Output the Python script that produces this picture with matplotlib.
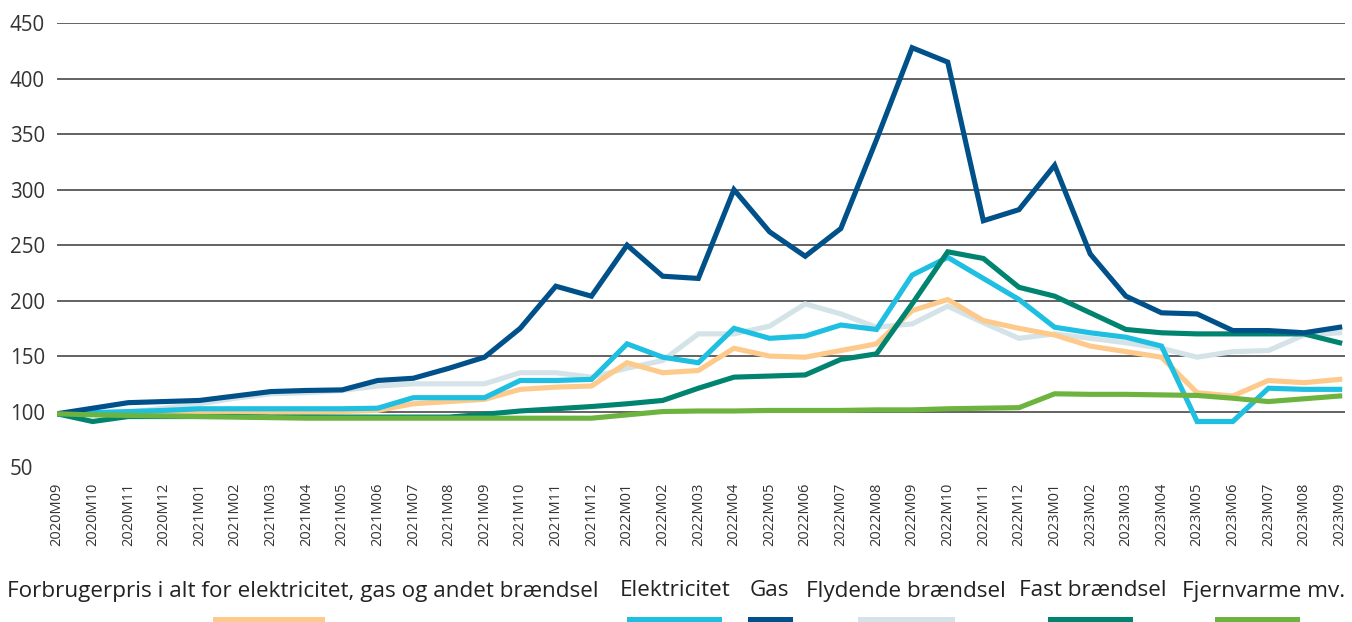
import numpy as np
import matplotlib
matplotlib.use("Agg")
import matplotlib.pyplot as plt
from matplotlib.patches import Rectangle

plt.rcParams['font.family'] = ['Open Sans', 'DejaVu Sans']

# -----------------------------
# DATA (index)
# -----------------------------
months = ["2020M09", "2020M10", "2020M11", "2020M12",
          "2021M01", "2021M02", "2021M03", "2021M04", "2021M05", "2021M06",
          "2021M07", "2021M08", "2021M09", "2021M10", "2021M11", "2021M12",
          "2022M01", "2022M02", "2022M03", "2022M04", "2022M05", "2022M06",
          "2022M07", "2022M08", "2022M09", "2022M10", "2022M11", "2022M12",
          "2023M01", "2023M02", "2023M03", "2023M04", "2023M05", "2023M06",
          "2023M07", "2023M08", "2023M09"]

forbrugerpris = [98, 98, 98, 99, 99, 99, 99, 99, 100, 101, 107, 109, 111,
                 120, 122, 123, 144, 135, 137, 157, 150, 149, 155, 161, 191,
                 201, 182, 175, 169, 159, 154, 149, 117, 114, 128, 126, 129]
elektricitet = [98, 99, 100, 101, 102.5, 102.5, 102.5, 102.5, 102.5, 103,
                112.5, 112.5, 112.5, 128, 128, 129, 161, 149, 144, 175, 166,
                168, 178, 174, 223, 239, 220, 201, 176, 171, 167, 159, 91, 91,
                121, 120, 120]
gas = [98, 103, 108, 109, 110, 114, 118, 119, 119.5, 128, 130, 139, 149, 175,
       213, 204, 250, 222, 220, 300, 262, 240, 265, 345, 428, 415, 272, 282,
       322, 242, 204, 189, 188, 173, 173, 171, 176]
flydende = [98, 98, 99.5, 103, 107, 112, 116, 117, 119, 123, 125, 125, 125,
            135, 135, 131, 139, 146, 170, 170, 177, 197, 188, 176, 179, 195,
            180, 166, 170, 166, 162, 157, 149, 154, 155, 169, 171]
fast = [98, 91, 95.5, 95.5, 95.5, 95.5, 95, 95, 95, 95, 95, 95, 97.5, 100.5,
        102.5, 104.5, 107, 110, 121, 131, 132, 133, 147, 152, 197, 244, 238,
        212, 204, 189, 174, 171, 170, 170, 170, 170, 162]
fjernvarme = [98, 97, 96.5, 96, 95.5, 95, 94.5, 94, 94, 94, 94, 94, 94, 94,
              94, 94, 97, 100, 100.5, 100.5, 101, 101, 101, 101.5, 101.5, 102.5,
              103, 103.5, 116, 115.5, 115.5, 115, 114.5, 112, 109, 111.5, 114]

labels = ["Forbrugerpris i alt for elektricitet, gas og andet brændsel",
          "Elektricitet", "Gas", "Flydende brændsel", "Fast brændsel",
          "Fjernvarme mv."]
values = [forbrugerpris, elektricitet, gas, flydende, fast, fjernvarme]
colors = ["#FDCA8C", "#1EBFE1", "#00508A", "#D3E3E7", "#00846F", "#6CB43F"]
zorders = [3, 4, 6, 2, 5, 7]

# -----------------------------
# PLOT
# -----------------------------
W, H = 1352, 622
fig = plt.figure(figsize=(W / 100, H / 100), dpi=100)
ax = fig.add_axes([57 / W, 1 - 467 / H, (1345 - 57) / W, (467 - 23.3) / H])

x = np.arange(len(months))
for vals, col, z in zip(values, colors, zorders):
    ax.plot(x, vals, color=col, lw=3.7, solid_joinstyle="miter", zorder=z)

ax.set_xlim(0, 36.15)
ax.set_ylim(50, 450)
ax.set_yticks(range(50, 451, 50))
ax.set_xticks(x)
ax.set_xticklabels(months, rotation=90, fontsize=10.5, color="#333333")
ax.tick_params(axis="x", length=0, pad=11.5)
ax.tick_params(axis="y", length=0, pad=34, labelsize=14.8, labelcolor="#333333")
for lbl in ax.get_yticklabels():
    lbl.set_horizontalalignment("left")

ax.yaxis.grid(True, color="#383838", lw=1.1, zorder=1)
ax.set_axisbelow(True)
ax.get_ygridlines()[0].set_visible(False)
for s in ax.spines.values():
    s.set_visible(False)

# -----------------------------
# LEGEND (text row with colour bars below)
# -----------------------------
text_centers = [303, 675, 769, 906, 1093, 1264]
bar_spans = [(213, 325), (627, 722), (748, 793), (858, 955), (1048, 1133), (1215, 1300)]
for lab, col, cx, (x0, x1) in zip(labels, colors, text_centers, bar_spans):
    fig.text(cx / W, 1 - 591 / H, lab, ha="center", va="center",
             fontsize=16.2, color="#222222")
    fig.add_artist(Rectangle((x0 / W, 0), (x1 - x0) / W, 5 / H,
                             transform=fig.transFigure, color=col, lw=0))

fig.savefig("out.png", dpi=100)
